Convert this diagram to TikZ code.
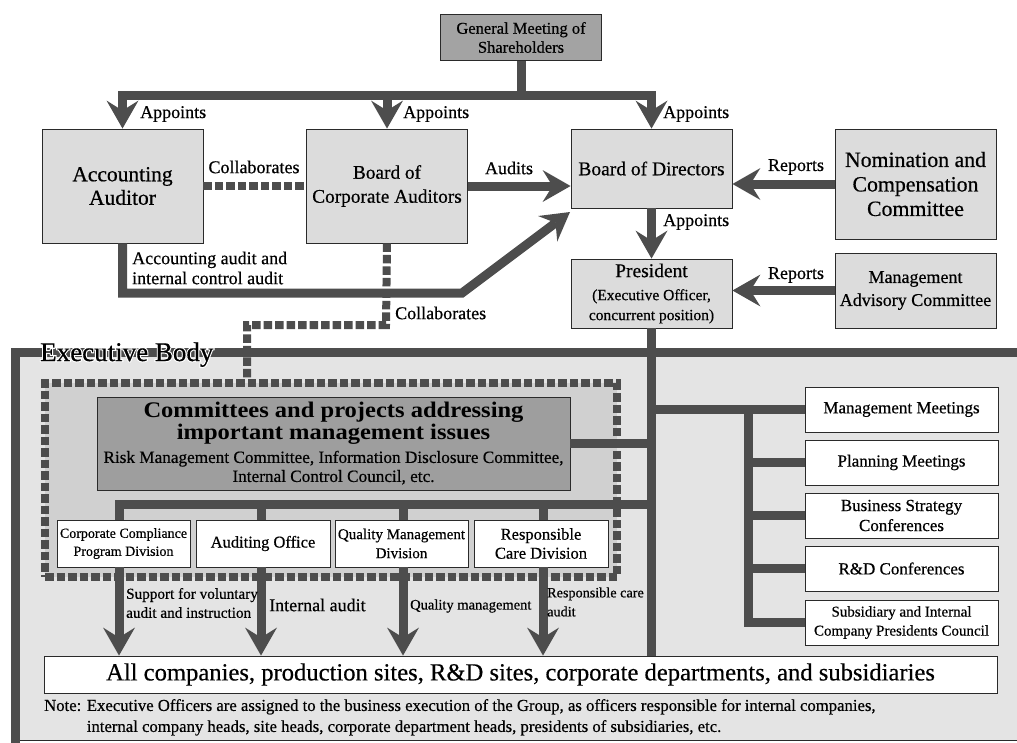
\documentclass[tikz,border=0pt]{standalone}
\usepackage{fontspec}
\setmainfont{Liberation Serif}[FakeBold=0.5]
\newfontfamily\titlefont{Liberation Serif}[FakeStretch=1.1]
\newfontfamily\halofont{Liberation Serif}[FakeBold=9]
\usetikzlibrary{arrows.meta,calc}
\definecolor{ln}{HTML}{4D4D4D}
\definecolor{bd}{HTML}{2A2A2A}
\definecolor{boxgray}{HTML}{DCDCDC}
\definecolor{gmgray}{HTML}{A3A3A3}
\definecolor{comgray}{HTML}{9E9E9E}
\definecolor{execgray}{HTML}{E4E4E4}
\definecolor{grpgray}{HTML}{D0D0D0}
\newcommand\fsz[2]{\fontsize{#1}{#2}\selectfont}
\newcommand\ctext[2]{\begin{minipage}{#1}\centering #2\end{minipage}}
\begin{document}
\begin{tikzpicture}[x=1pt,y=-1pt,
  conn/.style={draw=ln,line width=9pt},
  arr/.style={conn,-{Stealth[length=28pt,width=32pt,inset=10pt,line width=0pt]}},
  dline/.style={draw=ln,line width=8pt,dash pattern=on 8.5pt off 3pt},
  box/.style={draw=bd,line width=0.9pt,fill=boxgray,align=center,inner sep=0pt},
  wbox/.style={box,fill=white},
  lbl/.style={inner sep=0pt,font={\fsz{18}{20}}},
  sm/.style={inner sep=0pt,align=left,font={\fsz{14.5}{19}}},
  rbox/.style={wbox,minimum width=193pt,minimum height=45pt,font={\fsz{17}{20}}},
  dbox/.style={wbox,minimum height=47pt},
  exlbl/.style={anchor=base west,inner sep=0pt}
]
\useasboundingbox (0,0) rectangle (1017,742);

% executive body frame
\fill[execgray] (15,352) rectangle (1040,740);
\draw[bd,line width=1pt] (15,740) -- (1040,740);
\draw[conn] (1040,352) -- (15,352) -- (15,750);
\node[exlbl,text=white,font={\halofont\fsz{27}{30}}] (exbhalo) at (40,361) {Executive Body};
\node[exlbl,font={\fsz{27}{30}}] (exb) at (40,361) {Executive Body};

% group of committees (dashed frame)
\node[dline,fill=grpgray,minimum width=572pt,minimum height=194pt,inner sep=0pt] (grp) at (331,480) {};

% boxes
\node[box,fill=gmgray,minimum width=161pt,minimum height=46pt,font={\fsz{16.5}{19}}] (gm) at (521,37.5) {General Meeting of\\Shareholders};
\node[box,minimum width=161pt,minimum height=114pt,font={\fsz{21.5}{23.5}}] (aa) at (122.5,186) {Accounting\\Auditor};
\node[box,minimum width=161pt,minimum height=114pt,font={\fsz{19.3}{24}}] (bca) at (387,186) {Board of\\Corporate Auditors};
\node[box,minimum width=161pt,minimum height=79pt,font={\fsz{19.5}{22}}] (bod) at (651.5,168.5) {Board of Directors};
\node[box,minimum width=161pt,minimum height=110pt,font={\fsz{21.8}{24.5}}] (ncc) at (915.5,184) {Nomination and\\Compensation\\Committee};
\node[box,minimum width=161pt,minimum height=69pt] (pres) at (651.5,293.5) {\ctext{158pt}{\fsz{19.5}{21}President\\\fsz{15.5}{23}(Executive Officer,\\\fsz{15.5}{20}concurrent position)}};
\node[box,minimum width=161pt,minimum height=75pt,font={\fsz{18}{23}}] (mac) at (915.5,290.5) {Management\\Advisory Committee};

\node[box,fill=comgray,minimum width=473pt,minimum height=93pt] (com) at (333.5,443.5) {\ctext{470pt}{\titlefont\bfseries\fsz{22.3}{22}Committees and projects addressing\\important management issues\\\normalfont\fsz{17.2}{23}Risk Management Committee, Information Disclosure Committee,\\\fsz{17.2}{19}Internal Control Council, etc.}};

\node[dbox,minimum width=133pt,font={\fsz{14}{18}}] (b1) at (123.5,543.5) {Corporate Compliance\\Program Division};
\node[dbox,minimum width=134pt,font={\fsz{16.5}{19}}] (b2) at (263,543.5) {Auditing Office};
\node[dbox,minimum width=133pt,font={\fsz{15}{19}}] (b3) at (401.5,543.5) {Quality Management\\Division};
\node[dbox,minimum width=134pt,font={\fsz{16.5}{19}}] (b4) at (541,543.5) {Responsible\\Care Division};

\node[rbox] (mm) at (901.5,409.5) {Management Meetings};
\node[rbox] (pm) at (901.5,462.5) {Planning Meetings};
\node[rbox] (bsc) at (901.5,515.5) {Business Strategy\\Conferences};
\node[rbox] (rd) at (901.5,568.5) {R\&D Conferences};
\node[rbox,font={\fsz{15}{19}}] (sic) at (901.5,622.5) {Subsidiary and Internal\\Company Presidents Council};

\node[wbox,minimum width=953pt,minimum height=37pt,font={\fsz{24.6}{26}}] (all) at (520.5,674.5) {All companies, production sites, R\&D sites, corporate departments, and subsidiaries};

\node[anchor=north west,inner sep=0pt,font={\fsz{16.7}{21}}] (note) at (44,696) {\begin{tabular}{@{}l@{ }l@{}}Note: & Executive Officers are assigned to the business execution of the Group, as officers responsible for internal companies,\\ & internal company heads, site heads, corporate department heads, presidents of subsidiaries, etc.\end{tabular}};

% coordinates
\coordinate (bus) at (521,95);
\coordinate (k1) at (462,293);
\coordinate (tip) at (570,212);
\coordinate (c1) at (386,325);
\coordinate (c2) at (247,325);
\coordinate (v1) at (119,504);
\coordinate (v2) at (261,504);
\coordinate (v3) at (403,504);
\coordinate (v4) at (543,504);
\coordinate (rv) at (748,409.5);

% top connectors
\draw[arr] (gm.south) -- (bus) -| (aa.north);
\draw[arr] (gm.south) -- (bus) -| (bod.north);
\draw[arr] (bus -| bca.north) -- (bca.north);
\draw[dline] (aa.east) -- (bca.west);
\draw[arr] (bca.east) -- (bca.east -| bod.west);
\draw[arr] (ncc.west) -- (ncc.west -| bod.east);
\draw[arr] (bod.south) -- (pres.north);
\draw[arr] (mac.west) -- (mac.west -| pres.east);
\draw[arr] (aa.south) |- (k1) -- (tip);
\draw[dline] (bca.south) -- (c1) -- (c2) -- (c2 |- grp.north);

% executive connectors
\draw[conn] (pres.south) -- (pres.south |- all.north);
\draw[conn] (com.east) -- (com.east -| pres.south);
\draw[conn] (v1 |- b1.north) |- (pres.south |- v1);
\draw[conn] (v2) -- (v2 |- b2.north);
\draw[conn] (v3) -- (v3 |- b3.north);
\draw[conn] (v4) -- (v4 |- b4.north);
\draw[arr] (v1 |- b1.south) -- (v1 |- all.north);
\draw[arr] (v2 |- b2.south) -- (v2 |- all.north);
\draw[arr] (v3 |- b3.south) -- (v3 |- all.north);
\draw[arr] (v4 |- b4.south) -- (v4 |- all.north);
\draw[conn] (pres.south |- mm.west) -- (mm.west);
\draw[conn] (rv) |- (sic.west);
\draw[conn] (rv |- pm.west) -- (pm.west);
\draw[conn] (rv |- bsc.west) -- (bsc.west);
\draw[conn] (rv |- rd.west) -- (rd.west);

% labels
\node[lbl,anchor=west] (l1) at (140,114) {Appoints};
\node[lbl,anchor=west] (l2) at (403,114) {Appoints};
\node[lbl,anchor=west] (l3) at (663,114) {Appoints};
\node[lbl] (l4) at (254,167) {Collaborates};
\node[lbl] (l5) at (509,168) {Audits};
\node[lbl] (l6) at (796,167) {Reports};
\node[lbl,anchor=west] (l7) at (663,222) {Appoints};
\node[lbl] (l8) at (796,275) {Reports};
\node[lbl,anchor=west,align=left] (l9) at (132,268) {Accounting audit and\\internal control audit};
\node[lbl,anchor=west] (l10) at (395,313) {Collaborates};
\node[sm,anchor=west,font={\fsz{15.2}{19}}] (l11) at (126,603) {Support for voluntary\\audit and instruction};
\node[lbl,anchor=west] (l12) at (269,605) {Internal audit};
\node[sm,anchor=west] (l13) at (410,606) {Quality management};
\node[sm,anchor=west,font={\fsz{14.2}{19}}] (l14) at (547,602) {Responsible care\\audit};
\end{tikzpicture}
\end{document}
